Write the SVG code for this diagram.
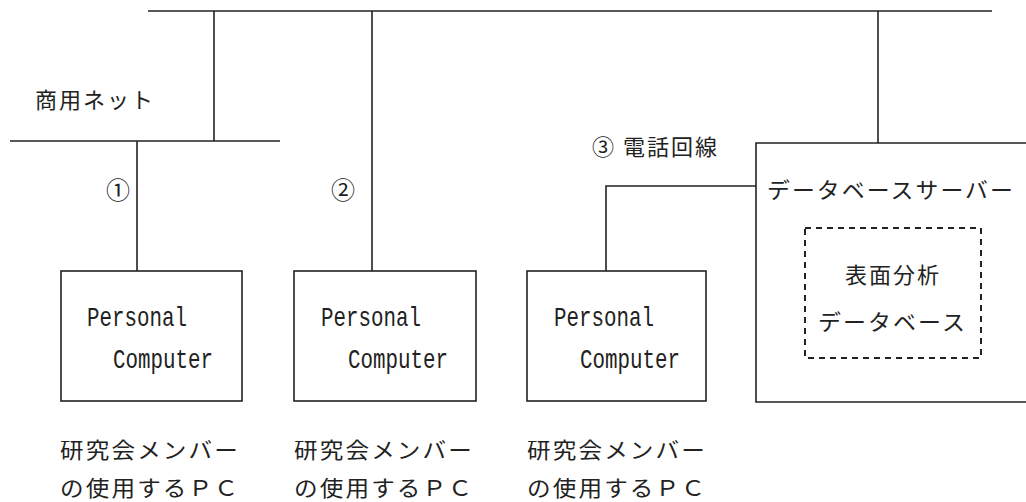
<svg xmlns="http://www.w3.org/2000/svg" width="1026" height="502" viewBox="0 0 1026 502">
<style>
.ln{stroke:#222;stroke-width:1.6;fill:none}
.bx{stroke:#222;stroke-width:1.6;fill:#fff}
.jp{font-family:"Noto Sans CJK JP","Noto Sans",sans-serif;font-size:22px;fill:#222;letter-spacing:2px}
.mono{font-family:"Liberation Mono","DejaVu Sans Mono",monospace;font-size:28px;fill:#222}
.num{font-family:"Noto Sans CJK JP",sans-serif;font-size:24px;fill:#222}
</style>
<rect width="1026" height="502" fill="#fff"/>
<g id="connectors">
<line class="ln" x1="148" y1="11" x2="992" y2="11" stroke-width="2"/>
<line class="ln" x1="214" y1="11" x2="214" y2="141"/>
<line class="ln" x1="10" y1="141" x2="280" y2="141" stroke-width="2"/>
<line class="ln" x1="137" y1="141" x2="137" y2="271"/>
<line class="ln" x1="372" y1="11" x2="372" y2="271"/>
<line class="ln" x1="878" y1="11" x2="878" y2="143"/>
<polyline class="ln" points="756,186 606,186 606,271"/>
</g>
<g id="label-net">
<text class="jp" x="35" y="108">商用ネット</text>
<text class="num" x="106" y="199">①</text>
<text class="num" x="331" y="199">②</text>
<text class="jp" x="592" y="155">③ 電話回線</text>
</g>
<g id="pc1">
<rect class="bx" x="61" y="271" width="181" height="130"/>
<text class="mono" x="87" y="326" textLength="100" lengthAdjust="spacingAndGlyphs">Personal</text>
<text class="mono" x="113" y="368" textLength="100" lengthAdjust="spacingAndGlyphs">Computer</text>
<text class="jp" x="60" y="458" textLength="180" lengthAdjust="spacingAndGlyphs">研究会メンバー</text>
<text class="jp" x="60" y="496" textLength="180" lengthAdjust="spacingAndGlyphs">の使用するＰＣ</text>
</g>
<g id="pc2">
<rect class="bx" x="294" y="271" width="182" height="130"/>
<text class="mono" x="321" y="326" textLength="100" lengthAdjust="spacingAndGlyphs">Personal</text>
<text class="mono" x="348" y="368" textLength="100" lengthAdjust="spacingAndGlyphs">Computer</text>
<text class="jp" x="294" y="458" textLength="180" lengthAdjust="spacingAndGlyphs">研究会メンバー</text>
<text class="jp" x="294" y="496" textLength="180" lengthAdjust="spacingAndGlyphs">の使用するＰＣ</text>
</g>
<g id="pc3">
<rect class="bx" x="527" y="271" width="179" height="130"/>
<text class="mono" x="554" y="326" textLength="100" lengthAdjust="spacingAndGlyphs">Personal</text>
<text class="mono" x="580" y="368" textLength="100" lengthAdjust="spacingAndGlyphs">Computer</text>
<text class="jp" x="527" y="458" textLength="180" lengthAdjust="spacingAndGlyphs">研究会メンバー</text>
<text class="jp" x="527" y="496" textLength="180" lengthAdjust="spacingAndGlyphs">の使用するＰＣ</text>
</g>
<g id="server">
<path class="ln" d="M1030,143 H756 V402 H1030"/>
<text class="jp" x="767" y="198" textLength="248" lengthAdjust="spacingAndGlyphs">データベースサーバー</text>
</g>
<g id="database">
<rect x="805" y="228" width="176" height="130" fill="none" stroke="#222" stroke-width="2" stroke-dasharray="6,5"/>
<text class="jp" x="893" y="283" text-anchor="middle" letter-spacing="0">表面分析</text>
<text class="jp" x="818" y="330" textLength="149" lengthAdjust="spacingAndGlyphs">データベース</text>
</g>
</svg>
